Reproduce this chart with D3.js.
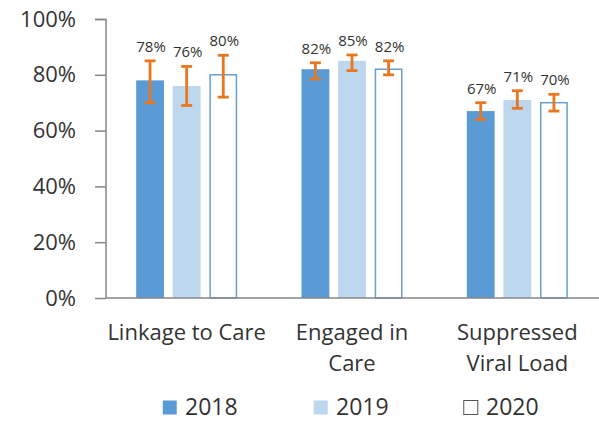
<!DOCTYPE html>
<html><head><meta charset="utf-8">
<script src="https://cdn.jsdelivr.net/npm/d3@7"></script>
<style>body{margin:0;background:#fff}svg{display:block}</style>
</head><body>
<script>
const categories = [["Linkage to Care"], ["Engaged in", "Care"], ["Suppressed", "Viral Load"]];
const series = ["2018", "2019", "2020"];
const values2018 = [0.78, 0.82, 0.67];
const values2019 = [0.76, 0.85, 0.71];
const values2020 = [0.80, 0.82, 0.70];
const low2018 = [0.70, 0.785, 0.64];
const high2018 = [0.85, 0.843, 0.70];
const low2019 = [0.69, 0.815, 0.68];
const high2019 = [0.83, 0.871, 0.743];
const low2020 = [0.72, 0.80, 0.67];
const high2020 = [0.87, 0.85, 0.73];
const yTicks = [0, 0.2, 0.4, 0.6, 0.8, 1.0];

const vals = [values2018, values2019, values2020];
const lows = [low2018, low2019, low2020];
const highs = [high2018, high2019, high2020];
const fills = ["#5B9BD5", "#BDD7EE", "#FFFFFF"];
const strokes = ["none", "none", "#6A9FCF"];

const W = 599, H = 422;
const svg = d3.select("body").append("svg").attr("width", W).attr("height", H);
const font = "'Open Sans', 'Noto Sans', sans-serif";
const txt = "#333333";

const x0 = d3.scaleBand().domain(d3.range(categories.length)).range([104, 600]).paddingInner(0).paddingOuter(0);
const x1 = d3.scaleBand().domain(d3.range(series.length)).range([0, 101]).paddingInner(0.24);
const groupOffset = (x0.bandwidth() - 101) / 2;
const y = d3.scaleLinear().domain([0, 1]).range([298, 19]);

// y axis
const yAxis = d3.axisLeft(y).tickValues(yTicks).tickFormat(d3.format(".0%")).tickSize(11).tickPadding(19);
const gy = svg.append("g").attr("transform", "translate(106,0)").call(yAxis);
gy.select(".domain").attr("stroke", "#868686").attr("stroke-width", 1.5).attr("d", "M-11,19.5H0V298");
gy.selectAll(".tick line").attr("stroke", "#868686").attr("stroke-width", 1.5);
gy.selectAll(".tick text").attr("font-family", font).attr("font-size", 22).attr("fill", txt);

// bars
const groups = svg.append("g").selectAll("g").data(categories).join("g")
  .attr("transform", (d, i) => `translate(${x0(i) + groupOffset},0)`);

series.forEach((s, si) => {
  groups.append("rect")
    .attr("x", x1(si) + (si === 2 ? 0.75 : 0))
    .attr("width", x1.bandwidth() - (si === 2 ? 1.5 : 0))
    .attr("y", (d, i) => y(vals[si][i]))
    .attr("height", (d, i) => y(0) - y(vals[si][i]))
    .attr("fill", fills[si])
    .attr("stroke", strokes[si])
    .attr("stroke-width", 1.5);
});

// x axis line
svg.append("line").attr("x1", 106).attr("x2", 599).attr("y1", 298).attr("y2", 298)
  .attr("stroke", "#868686").attr("stroke-width", 1.5);

// error bars and labels
series.forEach((s, si) => {
  const cx = x1(si) + x1.bandwidth() / 2;
  const eg = groups.append("g").attr("stroke", "#E87722").attr("stroke-width", 2.8).attr("fill", "none");
  eg.append("line").attr("x1", cx).attr("x2", cx)
    .attr("y1", (d, i) => y(highs[si][i])).attr("y2", (d, i) => y(lows[si][i]));
  eg.append("line").attr("x1", cx - 5.5).attr("x2", cx + 5.5)
    .attr("y1", (d, i) => y(highs[si][i])).attr("y2", (d, i) => y(highs[si][i]));
  eg.append("line").attr("x1", cx - 5.5).attr("x2", cx + 5.5)
    .attr("y1", (d, i) => y(lows[si][i])).attr("y2", (d, i) => y(lows[si][i]));
  groups.append("text")
    .attr("x", cx + 1).attr("y", (d, i) => y(highs[si][i]) - 9)
    .attr("text-anchor", "middle").attr("font-family", font).attr("font-size", 15).attr("fill", txt)
    .text((d, i) => d3.format(".0%")(vals[si][i]));
});

// category labels
svg.append("g").selectAll("text").data(categories).join("text")
  .attr("x", (d, i) => x0(i) + x0.bandwidth() / 2)
  .attr("y", 340).attr("text-anchor", "middle")
  .attr("font-family", font).attr("font-size", 22).attr("fill", txt)
  .each(function(d) {
    d3.select(this).selectAll("tspan").data(d).join("tspan")
      .attr("x", d3.select(this).attr("x")).attr("dy", (t, j) => j === 0 ? 0 : 31).text(t => t);
  });

// legend
const legX = [162, 313, 463];
const lg = svg.append("g").selectAll("g").data(series).join("g")
  .attr("transform", (d, i) => `translate(${legX[i]},0)`);
lg.append("rect").attr("x", 0.75).attr("y", 400.5).attr("width", 14).attr("height", 14)
  .attr("fill", (d, i) => fills[i]).attr("stroke", (d, i) => i === 2 ? "#555" : "none").attr("stroke-width", 1);
lg.append("text").attr("x", 23).attr("y", 415).attr("font-family", font).attr("font-size", 23).attr("fill", txt)
  .text(d => d);
</script>
</body></html>
